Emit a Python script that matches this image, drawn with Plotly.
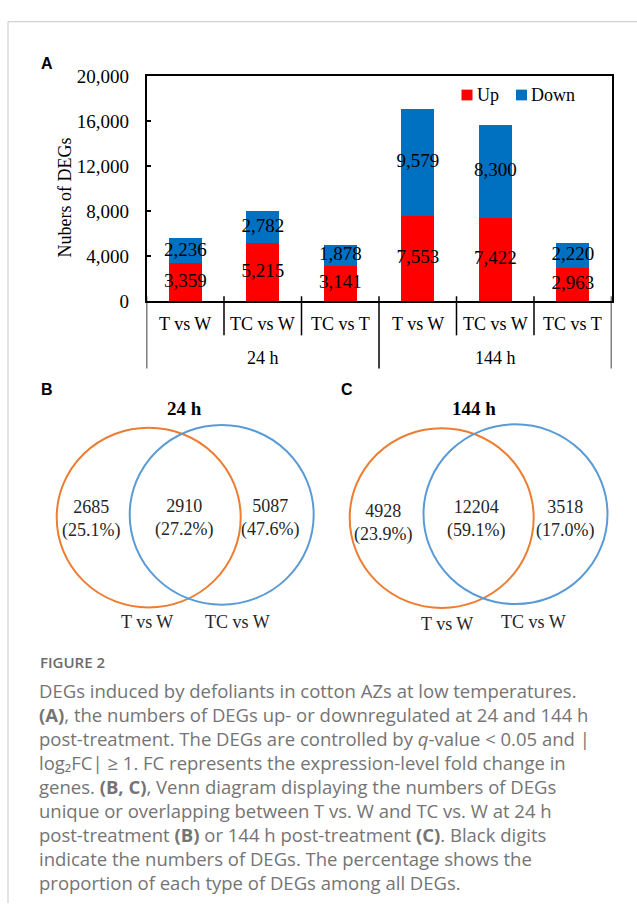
import plotly.graph_objects as go

# ---------------- data ----------------
groups = ["24 h", "24 h", "24 h", "144 h", "144 h", "144 h"]
comparisons = ["T vs W", "TC vs W", "TC vs T", "T vs W", "TC vs W", "TC vs T"]
up_counts = [3359, 5215, 3141, 7553, 7422, 2963]
down_counts = [2236, 2782, 1878, 9579, 8300, 2220]
y_ticks = [0, 4000, 8000, 12000, 16000, 20000]
series_names = ["Up", "Down"]

venn_titles = ["24 h", "144 h"]
venn_set_names = ["T vs W", "TC vs W"]
venn_24h = [2685, 2910, 5087]    # only T vs W, shared, only TC vs W
venn_144h = [4928, 12204, 3518]

caption_title = "FIGURE 2"
caption_lines = [
    "DEGs induced by defoliants in cotton AZs at low temperatures.",
    "<b>(A)</b>, the numbers of DEGs up- or downregulated at 24 and 144 h",
    "post-treatment. The DEGs are controlled by <i>q</i>-value &lt; 0.05 and |",
    "log₂FC| ≥ 1. FC represents the expression-level fold change in",
    "genes. <b>(B, C)</b>, Venn diagram displaying the numbers of DEGs",
    "unique or overlapping between T vs. W and TC vs. W at 24 h",
    "post-treatment <b>(B)</b> or 144 h post-treatment <b>(C)</b>. Black digits",
    "indicate the numbers of DEGs. The percentage shows the",
    "proportion of each type of DEGs among all DEGs.",
]

# ---------------- layout helpers ----------------
W, H = 637, 914
def px(x):
    return x / W
def py(y):
    return 1 - y / H

SERIF = "Liberation Serif, Times New Roman, serif"
SANS = "Liberation Sans, Arial, sans-serif"
CAP = "Open Sans, sans-serif"
RED = "#FF0000"
BLUE = "#0070C0"
ORANGE = "#ED7D31"
VBLUE = "#5B9BD5"

fig = go.Figure()
xs = list(range(len(comparisons)))

fig.add_trace(go.Bar(x=xs, y=up_counts, name=series_names[0], marker_color=RED,
                     marker_line_width=0, width=0.42))
fig.add_trace(go.Bar(x=xs, y=down_counts, name=series_names[1], marker_color=BLUE,
                     marker_line_width=0, width=0.42))

# data labels
lab_font = dict(family=SERIF, size=19, color="black")
fig.add_trace(go.Scatter(x=xs, y=[u / 2 for u in up_counts], mode="text",
                         text=[f"{u:,}" for u in up_counts],
                         textfont=lab_font, hoverinfo="skip"))
fig.add_trace(go.Scatter(x=xs, y=[u + d / 2 for u, d in zip(up_counts, down_counts)],
                         mode="text", text=[f"{d:,}" for d in down_counts],
                         textfont=lab_font, hoverinfo="skip"))

shapes = []
annotations = []

def note(x, y, text, font, xref="paper", **kw):
    d = dict(x=x, y=y, xref=xref, yref="paper", text=text, showarrow=False,
             xanchor="center", yanchor="middle", font=font)
    d.update(kw)
    annotations.append(d)

# category separators and group dividers
n = len(comparisons)
for i in range(n + 1):
    b = i - 0.5
    is_group = (i == 0 or i == n or groups[i] != groups[i - 1])
    shapes.append(dict(type="line", xref="x", yref="paper", x0=b, x1=b,
                       y0=py(293), y1=py(367 if is_group else 333),
                       line=dict(color="black", width=1.5)))
serif18 = dict(family=SERIF, size=18, color="black")
for i, c in enumerate(comparisons):
    note(i, py(321), c, serif18, xref="x")
seen = []
for g in groups:
    if g not in seen:
        seen.append(g)
for g in seen:
    idx = [i for i, gg in enumerate(groups) if gg == g]
    note(sum(idx) / len(idx), py(356), g, serif18, xref="x")

# y axis title
note(px(65), py(192), "Nubers of DEGs", serif18, textangle=-90)

# manual legend
for (x0, name, col) in [(461.5, series_names[0], RED), (516, series_names[1], BLUE)]:
    shapes.append(dict(type="rect", xref="paper", yref="paper",
                       x0=px(x0), x1=px(x0 + 11), y0=py(92.5), y1=py(81.5),
                       fillcolor=col, line=dict(width=0)))
    note(px(x0 + 13), py(87.5), name, serif18, xanchor="left")

# panel letters
for letter, (lx, ly) in zip(["A", "B", "C"], [(47, 55), (47, 388), (347, 388)]):
    note(px(lx), py(ly), f"<b>{letter}</b>", dict(family=SANS, size=16, color="black"))

# venn diagrams
venn_layout = [
    dict(title=(184, 408), c1=(148.7, 519.5), c2=(221.7, 516.7),
         txt=[(91, 521), (184, 520), (270, 520)],
         names=[(147, 626), (237, 626)]),
    dict(title=(474, 408), c1=(441.7, 520), c2=(515.5, 516),
         txt=[(383, 525), (476, 521), (565, 521)],
         names=[(447, 628), (533, 626)]),
]
R = 92
vfont = dict(family=SERIF, size=18, color="#262626")
for vdata, vtitle, L in zip([venn_24h, venn_144h], venn_titles, venn_layout):
    total = sum(vdata)
    note(px(L["title"][0]), py(L["title"][1]), f"<b>{vtitle}</b>",
         dict(family=SERIF, size=19, color="black"))
    for (cx, cy), col in [(L["c1"], ORANGE), (L["c2"], VBLUE)]:
        shapes.append(dict(type="circle", xref="paper", yref="paper",
                           x0=px(cx - R), x1=px(cx + R), y0=py(cy + R), y1=py(cy - R),
                           line=dict(color=col, width=2)))
    for v, (tx, ty) in zip(vdata, L["txt"]):
        note(px(tx), py(ty), f"{v}<br>({100 * v / total:.1f}%)", vfont, align="center")
    for name, (nx, ny) in zip(venn_set_names, L["names"]):
        note(px(nx), py(ny), name, vfont)

# caption
note(px(38), py(667), caption_title,
     dict(family=CAP, size=15, color="#6b6b6b", weight=600), xanchor="left")
note(px(37), py(682), "<br>".join(caption_lines),
     dict(family=CAP, size=18.5, color="#747474"),
     xanchor="left", yanchor="top", align="left")

# outer frame
shapes.append(dict(type="line", xref="paper", yref="paper", x0=px(8), x1=1,
                   y0=py(12), y1=py(12), line=dict(color="#c8c8c8", width=1)))
shapes.append(dict(type="line", xref="paper", yref="paper", x0=px(8), x1=px(8),
                   y0=py(12), y1=0, line=dict(color="#c8c8c8", width=1)))

fig.update_layout(
    width=W, height=H, margin=dict(l=0, r=0, t=0, b=0),
    paper_bgcolor="white", plot_bgcolor="white",
    barmode="stack", showlegend=False,
    shapes=shapes, annotations=annotations,
    xaxis=dict(domain=[px(146.5), px(611.5)], range=[-0.5, n - 0.5],
               showticklabels=False, ticks="", showgrid=False, zeroline=False,
               showline=True, mirror=True, linecolor="black", linewidth=1.5,
               fixedrange=True),
    yaxis=dict(domain=[py(298), py(68)], range=[0, 20000],
               tickvals=y_ticks, ticktext=[f"{v:,}" for v in y_ticks],
               ticks="inside", ticklen=5, tickwidth=1.5, tickcolor="black",
               tickfont=dict(family=SERIF, size=19, color="black"),
               ticklabelstandoff=12,
               showgrid=False, zeroline=False, showline=True, mirror=True,
               linecolor="black", linewidth=1.5, fixedrange=True),
)

fig.write_html("out.html",
               post_script="document.body.style.margin='0';document.body.style.overflow='hidden';")
